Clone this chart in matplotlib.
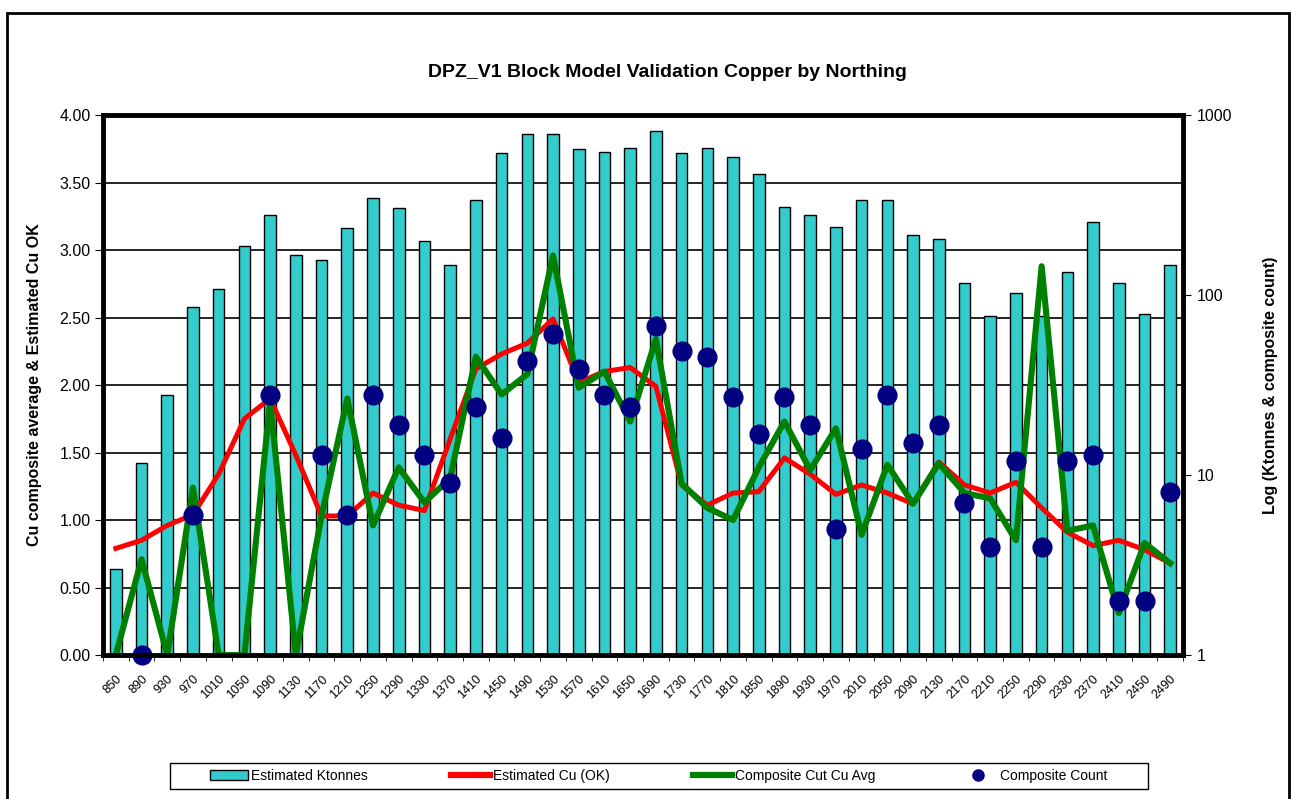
import matplotlib
matplotlib.use("Agg")
import numpy as np
import matplotlib.pyplot as plt
from matplotlib.patches import Rectangle, Patch
from matplotlib.lines import Line2D
from matplotlib.transforms import ScaledTranslation

plt.rcParams['font.family'] = ['Liberation Sans', 'DejaVu Sans']

northing = [850, 890, 930, 970, 1010, 1050, 1090, 1130, 1170, 1210, 1250, 1290, 1330, 1370,
            1410, 1450, 1490, 1530, 1570, 1610, 1650, 1690, 1730, 1770, 1810, 1850, 1890, 1930,
            1970, 2010, 2050, 2090, 2130, 2170, 2210, 2250, 2290, 2330, 2370, 2410, 2450, 2490]

# estimated tonnage (Ktonnes, right log axis)
ktonnes = [3, 11.7, 28, 86, 108, 187, 279, 166, 157, 235, 348, 303, 200, 147,
           336, 617, 785, 785, 649, 627, 660, 813, 617, 660, 585, 468, 309, 279,
           239, 336, 336, 215, 204, 117, 76, 102, 76, 135, 256, 117, 78, 147]

# estimated Cu (OK), left axis
est_cu = [0.79, 0.85, 0.96, 1.04, 1.34, 1.75, 1.90, 1.48, 1.03, 1.03, 1.20, 1.11, 1.07, 1.60,
          2.12, 2.23, 2.31, 2.49, 2.02, 2.10, 2.13, 1.99, 1.26, 1.11, 1.20, 1.21, 1.46, 1.34,
          1.19, 1.26, 1.20, 1.12, 1.43, 1.26, 1.20, 1.28, 1.09, 0.91, 0.81, 0.85, 0.78, 0.68]

# composite cut Cu average, left axis
comp_cu = [0.0, 0.71, 0.0, 1.24, 0.0, 0.0, 1.88, 0.0, 1.03, 1.90, 0.96, 1.39, 1.13, 1.31,
           2.21, 1.93, 2.08, 2.96, 1.98, 2.10, 1.73, 2.34, 1.27, 1.09, 1.00, 1.39, 1.73, 1.37,
           1.68, 0.89, 1.41, 1.12, 1.42, 1.20, 1.16, 0.85, 2.88, 0.92, 0.96, 0.31, 0.83, 0.68]

# composite count (right log axis), nan = no composites
comp_count = [np.nan, 1, np.nan, 6, np.nan, np.nan, 28, np.nan, 13, 6, 28, 19, 13, 9,
              24, 16, 43, 61, 39, 28, 24, 67, 49, 45, 27, 17, 27, 19,
              5, 14, 28, 15, 19, 7, 4, 12, 4, 12, 13, 2, 2, 8]

x = np.arange(len(northing))

fig = plt.figure(figsize=(12.92, 7.99), dpi=100)
pos = [0.0797, 0.1802, 0.8360, 0.6758]

# base axis: left scale + gridlines
ax = fig.add_axes(pos)
ax.set_ylim(0, 4)
ax.set_xlim(-0.5, len(x) - 0.5)
ax.set_yticks(np.arange(0, 4.01, 0.5))
ax.set_yticklabels(['%.2f' % v for v in np.arange(0, 4.01, 0.5)], fontsize=11.5)
ax.yaxis.grid(True, color='black', linewidth=1.2)
ax.set_axisbelow(True)
ax.set_xticks(x)
ax.set_xticklabels([str(n) for n in northing], rotation=45, ha='right',
                   rotation_mode='anchor', fontsize=9)
shift = ScaledTranslation(-13 / 72, 0, fig.dpi_scale_trans)
for lab in ax.get_xticklabels():
    lab.set_transform(lab.get_transform() + shift)
ax.set_xticks(np.arange(-0.5, len(x), 1), minor=True)
ax.tick_params(axis='x', which='major', length=0, pad=13)
ax.tick_params(axis='x', which='minor', length=4, direction='out')
ax.tick_params(axis='y', length=6, direction='out', pad=3)
ax.set_ylabel('Cu composite average & Estimated Cu OK', fontsize=11.5, fontweight='bold')
ax.yaxis.set_label_coords(-0.0565, 0.5)

# bars on log axis
axb = ax.twinx()
axb.set_yscale('log')
axb.set_ylim(1, 1000)
axb.bar(x, ktonnes, width=0.45, color='#33CCCC', edgecolor='black', linewidth=1.0)
axb.set_yticks([1, 10, 100, 1000])
axb.set_yticklabels(['1', '10', '100', '1000'], fontsize=11.5)
axb.yaxis.set_minor_locator(matplotlib.ticker.NullLocator())
axb.tick_params(axis='y', length=6, direction='out', pad=4)
axb.set_ylabel('Log (Ktonnes & composite count)', fontsize=11.5, fontweight='bold', labelpad=22)

# lines on linear axis
axl = ax.twinx()
axl.set_ylim(0, 4)
axl.plot(x, est_cu, color='#FF0000', linewidth=3.6, solid_joinstyle='round', zorder=2)
axl.plot(x, comp_cu, color='#008000', linewidth=4.4, solid_joinstyle='round', zorder=3)
axl.set_yticks([])

# composite count dots on log axis
axd = ax.twinx()
axd.set_yscale('log')
axd.set_ylim(1, 1000)
axd.plot(x, comp_count, 'o', color='#000080', markersize=13.5, clip_on=False)
axd.set_yticks([])
axd.yaxis.set_minor_locator(matplotlib.ticker.NullLocator())

for i, a in enumerate([ax, axb, axl, axd]):
    a.set_zorder(i)
    for s in a.spines.values():
        s.set_linewidth(3.5 if a is axd else 0)
        s.set_color('black')

fig.text(0.5166, 0.909, 'DPZ_V1 Block Model Validation Copper by Northing',
         ha='center', va='center', fontsize=14, fontweight='bold')

# outer chart border
fig.patches.append(Rectangle((7 / 1292, -0.05), 1282 / 1292, 1.05 - 13 / 799,
                             transform=fig.transFigure, fill=False,
                             edgecolor='black', linewidth=2))

# legend: entries without frame, box drawn separately (wide side padding)
handles = [Patch(facecolor='#33CCCC', edgecolor='black'),
           Line2D([], [], color='#FF0000', linewidth=4.5),
           Line2D([], [], color='#008000', linewidth=4.5),
           Line2D([], [], marker='o', linestyle='', color='#000080', markersize=8)]
labels = ['Estimated Ktonnes', 'Estimated Cu (OK)', 'Composite Cut Cu Avg', 'Composite Count']
leg = fig.legend(handles, labels, loc='center', bbox_to_anchor=(0.5097, 0.0288), ncol=4,
                 fontsize=10, frameon=False, columnspacing=6.0, handlelength=2.8,
                 handletextpad=0.2, borderpad=0.0)
fig.patches.append(Rectangle((170 / 1292, 10 / 799), 978 / 1292, 26 / 799,
                             transform=fig.transFigure, fill=False,
                             edgecolor='black', linewidth=1.0))

fig.savefig('out.png', dpi=100)
